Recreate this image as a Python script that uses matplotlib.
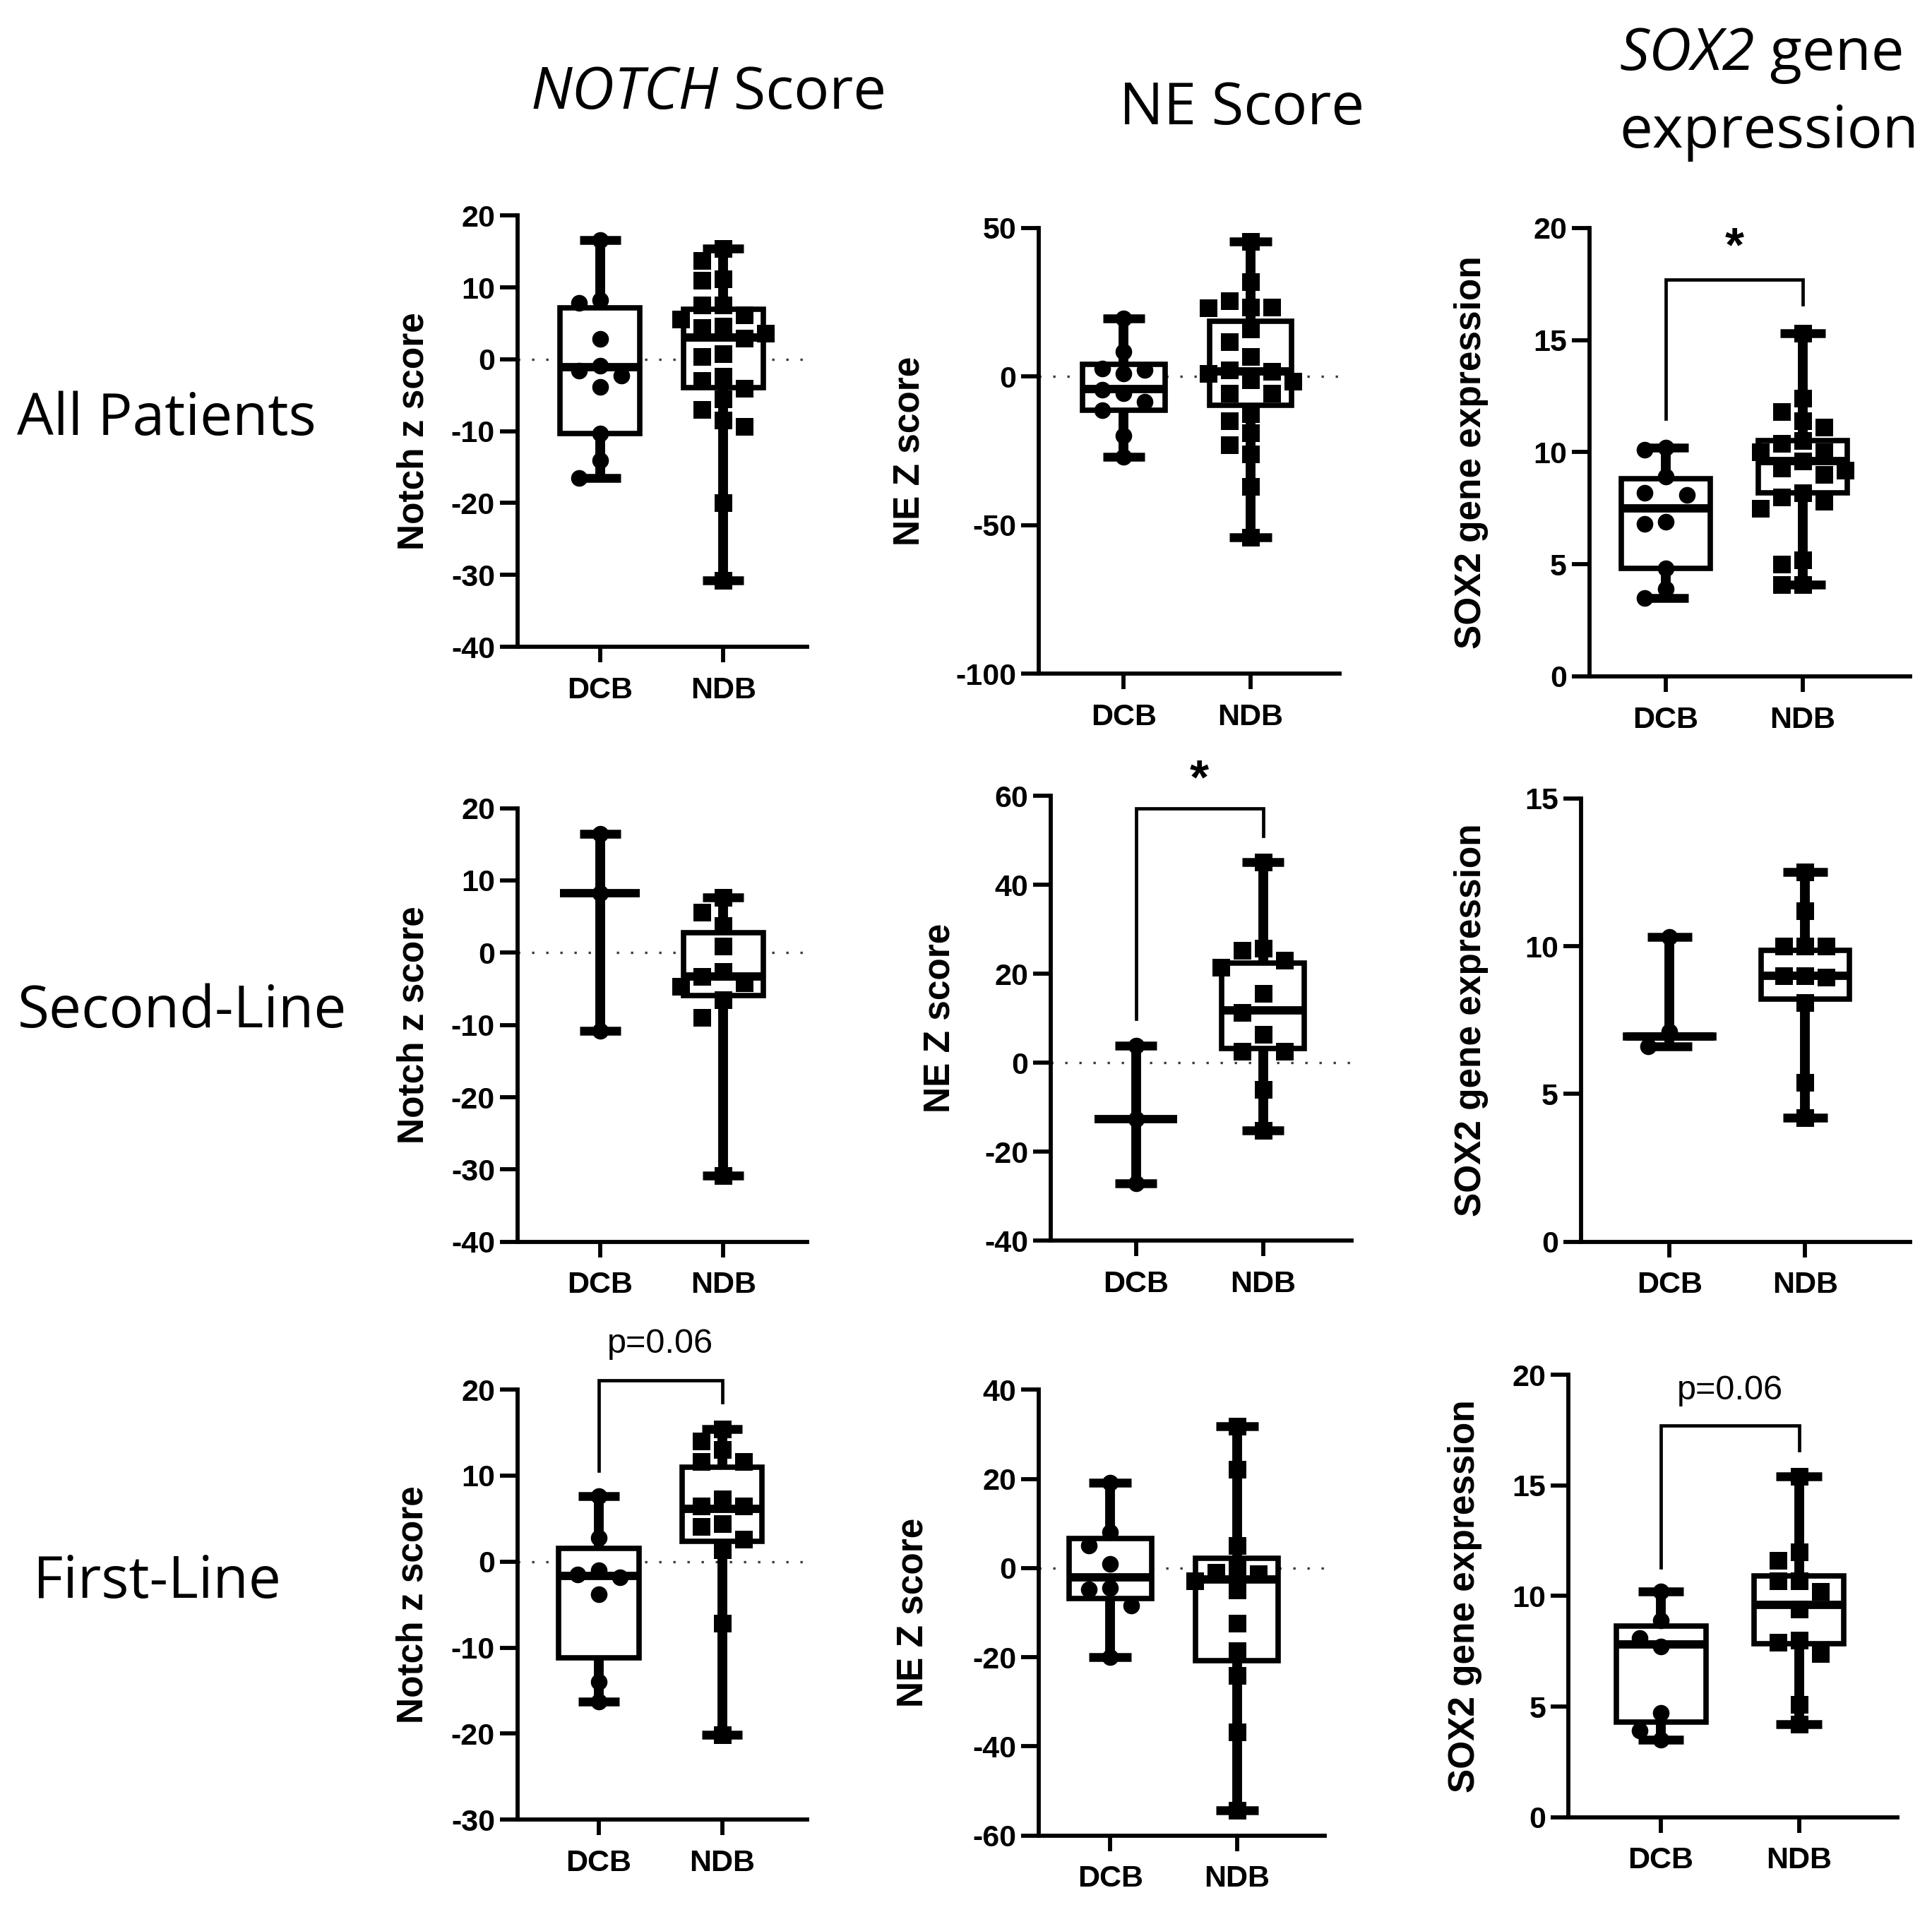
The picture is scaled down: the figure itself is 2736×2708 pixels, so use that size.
import matplotlib
matplotlib.use('Agg')
import matplotlib.pyplot as plt
import numpy as np

# ---------------- data ----------------
groups = ['DCB', 'NDB']
row_titles = ['All Patients', 'Second-Line', 'First-Line']
ylabels = ['Notch z score', 'NE Z score', 'SOX2 gene expression']

# box stats: [min, q1, median, q3, max]
notch_all_dcb = [16.6, 8.2, 7.9, 2.8, -0.9, -1.6, -2.3, -3.8, -10.3, -14.1, -16.5]
notch_all_dcb_box = [-16.5, -10.3, -1.1, 7.2, 16.6]
notch_all_ndb = [15.4, 13.7, 11.2, 11.0, 7.6, 7.6, 6.2, 5.6, 4.4, 4.6, 3.6, 2.9, 0.8, 0.4,
                 -2.4, -3.0, -4.0, -5.5, -7.0, -8.5, -9.3, -20.0, -30.8]
notch_all_ndb_box = [-30.8, -3.9, 3.0, 7.0, 15.4]

ne_all_dcb = [19.5, 8.5, 2.8, 2.3, 1.1, -4.5, -5.7, -8.5, -11.4, -19.9, -27.0]
ne_all_dcb_box = [-27.0, -11.4, -4.2, 4.0, 19.5]
ne_all_ndb = [45.4, 31.8, 25.5, 23.3, 23.3, 23.0, 15.9, 11.7, 6.8, 2.3, 1.7, 1.1, -1.1, -1.7,
              -5.7, -5.7, -12.5, -14.8, -19.0, -23.0, -26.0, -36.9, -54.0]
ne_all_ndb_box = [-54.0, -9.6, 1.7, 18.7, 45.4]

sox2_all_dcb = [10.2, 10.1, 8.9, 8.2, 8.1, 6.9, 6.8, 4.8, 3.9, 3.5]
sox2_all_dcb_box = [3.5, 4.8, 7.5, 8.8, 10.2]
sox2_all_ndb = [15.3, 12.4, 11.8, 11.4, 11.1, 10.5, 10.4, 10.0, 10.0, 9.6, 9.3, 9.2, 9.0,
                8.2, 8.0, 7.8, 7.5, 5.2, 5.0, 4.1, 4.1]
sox2_all_ndb_box = [4.1, 8.2, 9.6, 10.5, 15.3]

notch_second_dcb = [16.4, 8.2, -10.8]
notch_second_dcb_box = [-10.8, 8.2, 8.2, 8.2, 16.4]
notch_second_ndb = [7.7, 5.6, 3.7, 0.9, -2.6, -3.3, -4.2, -4.7, -6.5, -9.0, -30.8]
notch_second_ndb_box = [-30.8, -5.9, -3.3, 2.8, 7.7]

ne_second_dcb = [3.8, -12.7, -27.2]
ne_second_dcb_box = [-27.2, -12.7, -12.7, -12.7, 3.8]
ne_second_ndb = [45.1, 25.7, 25.3, 23.0, 21.5, 15.5, 11.3, 6.4, 2.6, 2.6, -6.0, -15.3]
ne_second_ndb_box = [-15.3, 3.2, 11.7, 22.4, 45.1]

sox2_second_dcb = [10.3, 7.1, 6.6]
sox2_second_dcb_box = [6.6, 6.9, 6.95, 7.0, 10.3]
sox2_second_ndb = [12.5, 11.2, 10.0, 10.0, 10.0, 9.0, 9.0, 8.95, 8.1, 5.4, 4.2]
sox2_second_ndb_box = [4.2, 8.2, 9.0, 9.85, 12.5]

notch_first_dcb = [7.6, 2.8, -1.0, -1.5, -1.8, -3.8, -14.0, -16.3]
notch_first_dcb_box = [-16.3, -11.2, -1.7, 1.5, 7.6]
notch_first_ndb = [15.4, 14.0, 13.0, 11.6, 11.6, 7.3, 6.5, 6.5, 4.4, 4.1, 2.6, 1.4, -7.2, -20.1]
notch_first_ndb_box = [-20.1, 2.4, 6.1, 11.0, 15.4]

ne_first_dcb = [19.1, 8.1, 5.0, 0.9, -4.5, -4.7, -8.4, -20.0]
ne_first_dcb_box = [-20.0, -6.8, -2.1, 6.7, 19.1]
ne_first_ndb = [31.8, 22.2, 5.0, 0.2, -0.9, -1.3, -2.9, -4.9, -12.3, -18.6, -24.1, -36.7, -54.4]
ne_first_ndb_box = [-54.4, -20.8, -2.5, 2.2, 31.8]

sox2_first_dcb = [10.2, 8.9, 8.1, 7.7, 4.7, 3.9, 3.5]
sox2_first_dcb_box = [3.5, 4.3, 7.8, 8.65, 10.2]
sox2_first_ndb = [15.4, 12.0, 11.6, 10.7, 10.7, 10.2, 9.4, 8.0, 7.9, 7.4, 5.1, 4.2]
sox2_first_ndb_box = [4.2, 7.85, 9.6, 10.9, 15.4]

# significance brackets: [DCB end, top, NDB end, label y]
sox2_all_bracket = [11.5, 17.7, 16.6, 19.1]
ne_second_bracket = [9.8, 57.1, 51.0, 63.5]
notch_first_bracket = [10.6, 21.1, 18.5, 25.3]
sox2_first_bracket = [11.3, 17.7, 16.6, 19.3]

# y-axis ranges and ticks
notch_ticks = [-40, -30, -20, -10, 0, 10, 20]
notch_first_ticks = [-30, -20, -10, 0, 10, 20]
ne_all_ticks = [-100, -50, 0, 50]
ne_second_ticks = [-40, -20, 0, 20, 40, 60]
ne_first_ticks = [-60, -40, -20, 0, 20, 40]
sox2_ticks = [0, 5, 10, 15, 20]
sox2_second_ticks = [0, 5, 10, 15]

# ---------------- layout (reference px, 1568 x 1552 frame) ----------------
W, H = 1568.0, 1552.0
K = 2736.0 / W  # output px per layout px

panels = [
    # L, R, top, bottom, xDCB, xNDB
    dict(geo=(420, 655, 175, 525, 487, 587), d=notch_all_dcb, n=notch_all_ndb,
         db=notch_all_dcb_box, nb=notch_all_ndb_box, ticks=notch_ticks, yl=0, zero=True,
         lx=-0.298, br=None),
    dict(geo=(843, 1087, 185, 547, 912, 1015), d=ne_all_dcb, n=ne_all_ndb,
         db=ne_all_dcb_box, nb=ne_all_ndb_box, ticks=ne_all_ticks, yl=1, zero=True,
         lx=-0.373, br=None),
    dict(geo=(1290, 1550, 185, 549, 1352, 1463), d=sox2_all_dcb, n=sox2_all_ndb,
         db=sox2_all_dcb_box, nb=sox2_all_ndb_box, ticks=sox2_ticks, yl=2, zero=False,
         lx=-0.315, br=(sox2_all_bracket, '*')),
    dict(geo=(420, 655, 656, 1008, 487, 587), d=notch_second_dcb, n=notch_second_ndb,
         db=notch_second_dcb_box, nb=notch_second_ndb_box, ticks=notch_ticks, yl=0, zero=True,
         lx=-0.298, br=None),
    dict(geo=(853, 1097, 646, 1007, 922, 1025), d=ne_second_dcb, n=ne_second_ndb,
         db=ne_second_dcb_box, nb=ne_second_ndb_box, ticks=ne_second_ticks, yl=1, zero=True,
         lx=-0.311, br=(ne_second_bracket, '*')),
    dict(geo=(1283, 1550, 648, 1008, 1355, 1465), d=sox2_second_dcb, n=sox2_second_ndb,
         db=sox2_second_dcb_box, nb=sox2_second_ndb_box, ticks=sox2_second_ticks, yl=2, zero=False,
         lx=-0.281, br=None),
    dict(geo=(420, 655, 1128, 1477, 486, 586), d=notch_first_dcb, n=notch_first_ndb,
         db=notch_first_dcb_box, nb=notch_first_ndb_box, ticks=notch_first_ticks, yl=0, zero=True,
         lx=-0.302, br=(notch_first_bracket, 'p=0.06')),
    dict(geo=(843, 1075, 1128, 1490, 901, 1004), d=ne_first_dcb, n=ne_first_ndb,
         db=ne_first_dcb_box, nb=ne_first_ndb_box, ticks=ne_first_ticks, yl=1, zero=True,
         lx=-0.379, br=None),
    dict(geo=(1273, 1540, 1116, 1475, 1348, 1460), d=sox2_first_dcb, n=sox2_first_ndb,
         db=sox2_first_dcb_box, nb=sox2_first_ndb_box, ticks=sox2_ticks, yl=2, zero=False,
         lx=-0.262, br=(sox2_first_bracket, 'p=0.06')),
]

AX_FONT = ['Liberation Sans', 'DejaVu Sans']
TITLE_FONT = ['Open Sans', 'DejaVu Sans']


def swarm(values, ypx, xpx, step=30.0, mind=27.0):
    vals = np.asarray(values, dtype=float)
    order = np.argsort(-vals, kind='stable')
    placed = []
    offs = np.zeros(len(vals))
    for i in order:
        y = vals[i] * ypx
        x = 0.0
        for k in [0, -1, 1, -2, 2, -3, 3, -4, 4, -5, 5]:
            x = k * step
            if all((x - px) ** 2 + (y - py) ** 2 >= mind ** 2 for px, py in placed):
                break
        placed.append((x, y))
        offs[i] = x / xpx
    return offs


def stats(b):
    return dict(whislo=b[0], q1=b[1], med=b[2], q3=b[3], whishi=b[4], fliers=[])


fig = plt.figure(figsize=(27.36, 27.08), dpi=100)
fig.patch.set_facecolor('white')

for p in panels:
    L, R, top, bot, xd, xn = p['geo']
    ax = fig.add_axes([L / W, 1 - bot / H, (R - L) / W, (bot - top) / H])
    sp = xn - xd
    xlo = 1 - (xd - L) / sp
    xhi = 2 + (R - xn) / sp
    ax.set_xlim(xlo, xhi)
    ticks = p['ticks']
    ax.set_ylim(ticks[0], ticks[-1])

    if p['zero']:
        ax.axhline(0, ls=(0, (1, 5)), lw=2.4, color='#3a3a3a', zorder=1)

    ax.bxp([stats(p['db']), stats(p['nb'])], positions=[1, 2], widths=0.65,
           capwidths=0.33, patch_artist=True, showfliers=False,
           boxprops=dict(facecolor='white', edgecolor='black', linewidth=5.5),
           whiskerprops=dict(color='black', linewidth=10, solid_capstyle='butt'),
           capprops=dict(color='black', linewidth=9, solid_capstyle='butt'),
           medianprops=dict(color='black', linewidth=8.5, solid_capstyle='butt'),
           zorder=2)

    ypx = (bot - top) * K / (ticks[-1] - ticks[0])
    xpx = sp * K
    for pos, vals, mk, ms in [(1, p['d'], 'o', 17), (2, p['n'], 's', 18)]:
        offs = swarm(vals, ypx, xpx)
        ax.scatter(pos + offs, vals, marker=mk, s=ms ** 2, c='black',
                   linewidths=0, zorder=4, clip_on=False)

    if p['br'] is not None:
        (y1, yt, y2, ylab), txt = p['br']
        ax.plot([1, 1, 2, 2], [y1, yt, yt, y2], color='black', lw=3.4,
                clip_on=False, zorder=3, solid_joinstyle='miter')
        if txt == '*':
            ax.text(1.5, ylab, txt, ha='center', va='center', fontsize=50,
                    fontweight='bold', family=AX_FONT, clip_on=False)
        else:
            ax.text(1.5, ylab, txt, ha='center', va='center', fontsize=35,
                    family=AX_FONT, clip_on=False)

    for s in ['top', 'right']:
        ax.spines[s].set_visible(False)
    for s in ['left', 'bottom']:
        ax.spines[s].set_linewidth(4.2)
        ax.spines[s].set_color('black')
    ax.set_yticks(ticks)
    ax.set_yticklabels([str(t) for t in ticks])
    ax.set_xticks([1, 2])
    ax.set_xticklabels(groups)
    ax.tick_params(axis='y', length=18, width=4.2, pad=5, labelsize=31)
    ax.tick_params(axis='x', length=16, width=4.2, pad=14, labelsize=31)
    for lab in ax.get_xticklabels() + ax.get_yticklabels():
        lab.set_fontweight('bold')
        lab.set_family(AX_FONT)
    ax.set_ylabel(ylabels[p['yl']], fontsize=37, fontweight='bold', family=AX_FONT)
    ax.yaxis.set_label_coords(p['lx'], 0.5)
    ax.set_facecolor('none')

# column titles
TS = 60
fig.text(583 / W, 1 - 88 / H, 'NOTCH', ha='right', va='baseline', fontsize=TS,
         style='italic', family=TITLE_FONT)
fig.text(583 / W, 1 - 88 / H, ' Score', ha='left', va='baseline', fontsize=TS,
         family=TITLE_FONT)
fig.text(1008 / W, 1 - 101 / H, 'NE Score', ha='center', va='baseline', fontsize=TS,
         family=TITLE_FONT)
fig.text(1424 / W, 1 - 57 / H, 'SOX2', ha='right', va='baseline', fontsize=TS,
         style='italic', family=TITLE_FONT)
fig.text(1424 / W, 1 - 57 / H, ' gene', ha='left', va='baseline', fontsize=TS,
         family=TITLE_FONT)
fig.text(1436 / W, 1 - 120 / H, 'expression', ha='center', va='baseline', fontsize=TS,
         family=TITLE_FONT)

# row titles
RS = 59
fig.text(14 / W, 1 - 353 / H, row_titles[0], ha='left', va='baseline', fontsize=RS,
         family=TITLE_FONT)
fig.text(14 / W, 1 - 834 / H, row_titles[1], ha='left', va='baseline', fontsize=RS,
         family=TITLE_FONT)
fig.text(27 / W, 1 - 1297 / H, row_titles[2], ha='left', va='baseline', fontsize=RS,
         family=TITLE_FONT)

fig.savefig('out.png', dpi=100, facecolor='white')
